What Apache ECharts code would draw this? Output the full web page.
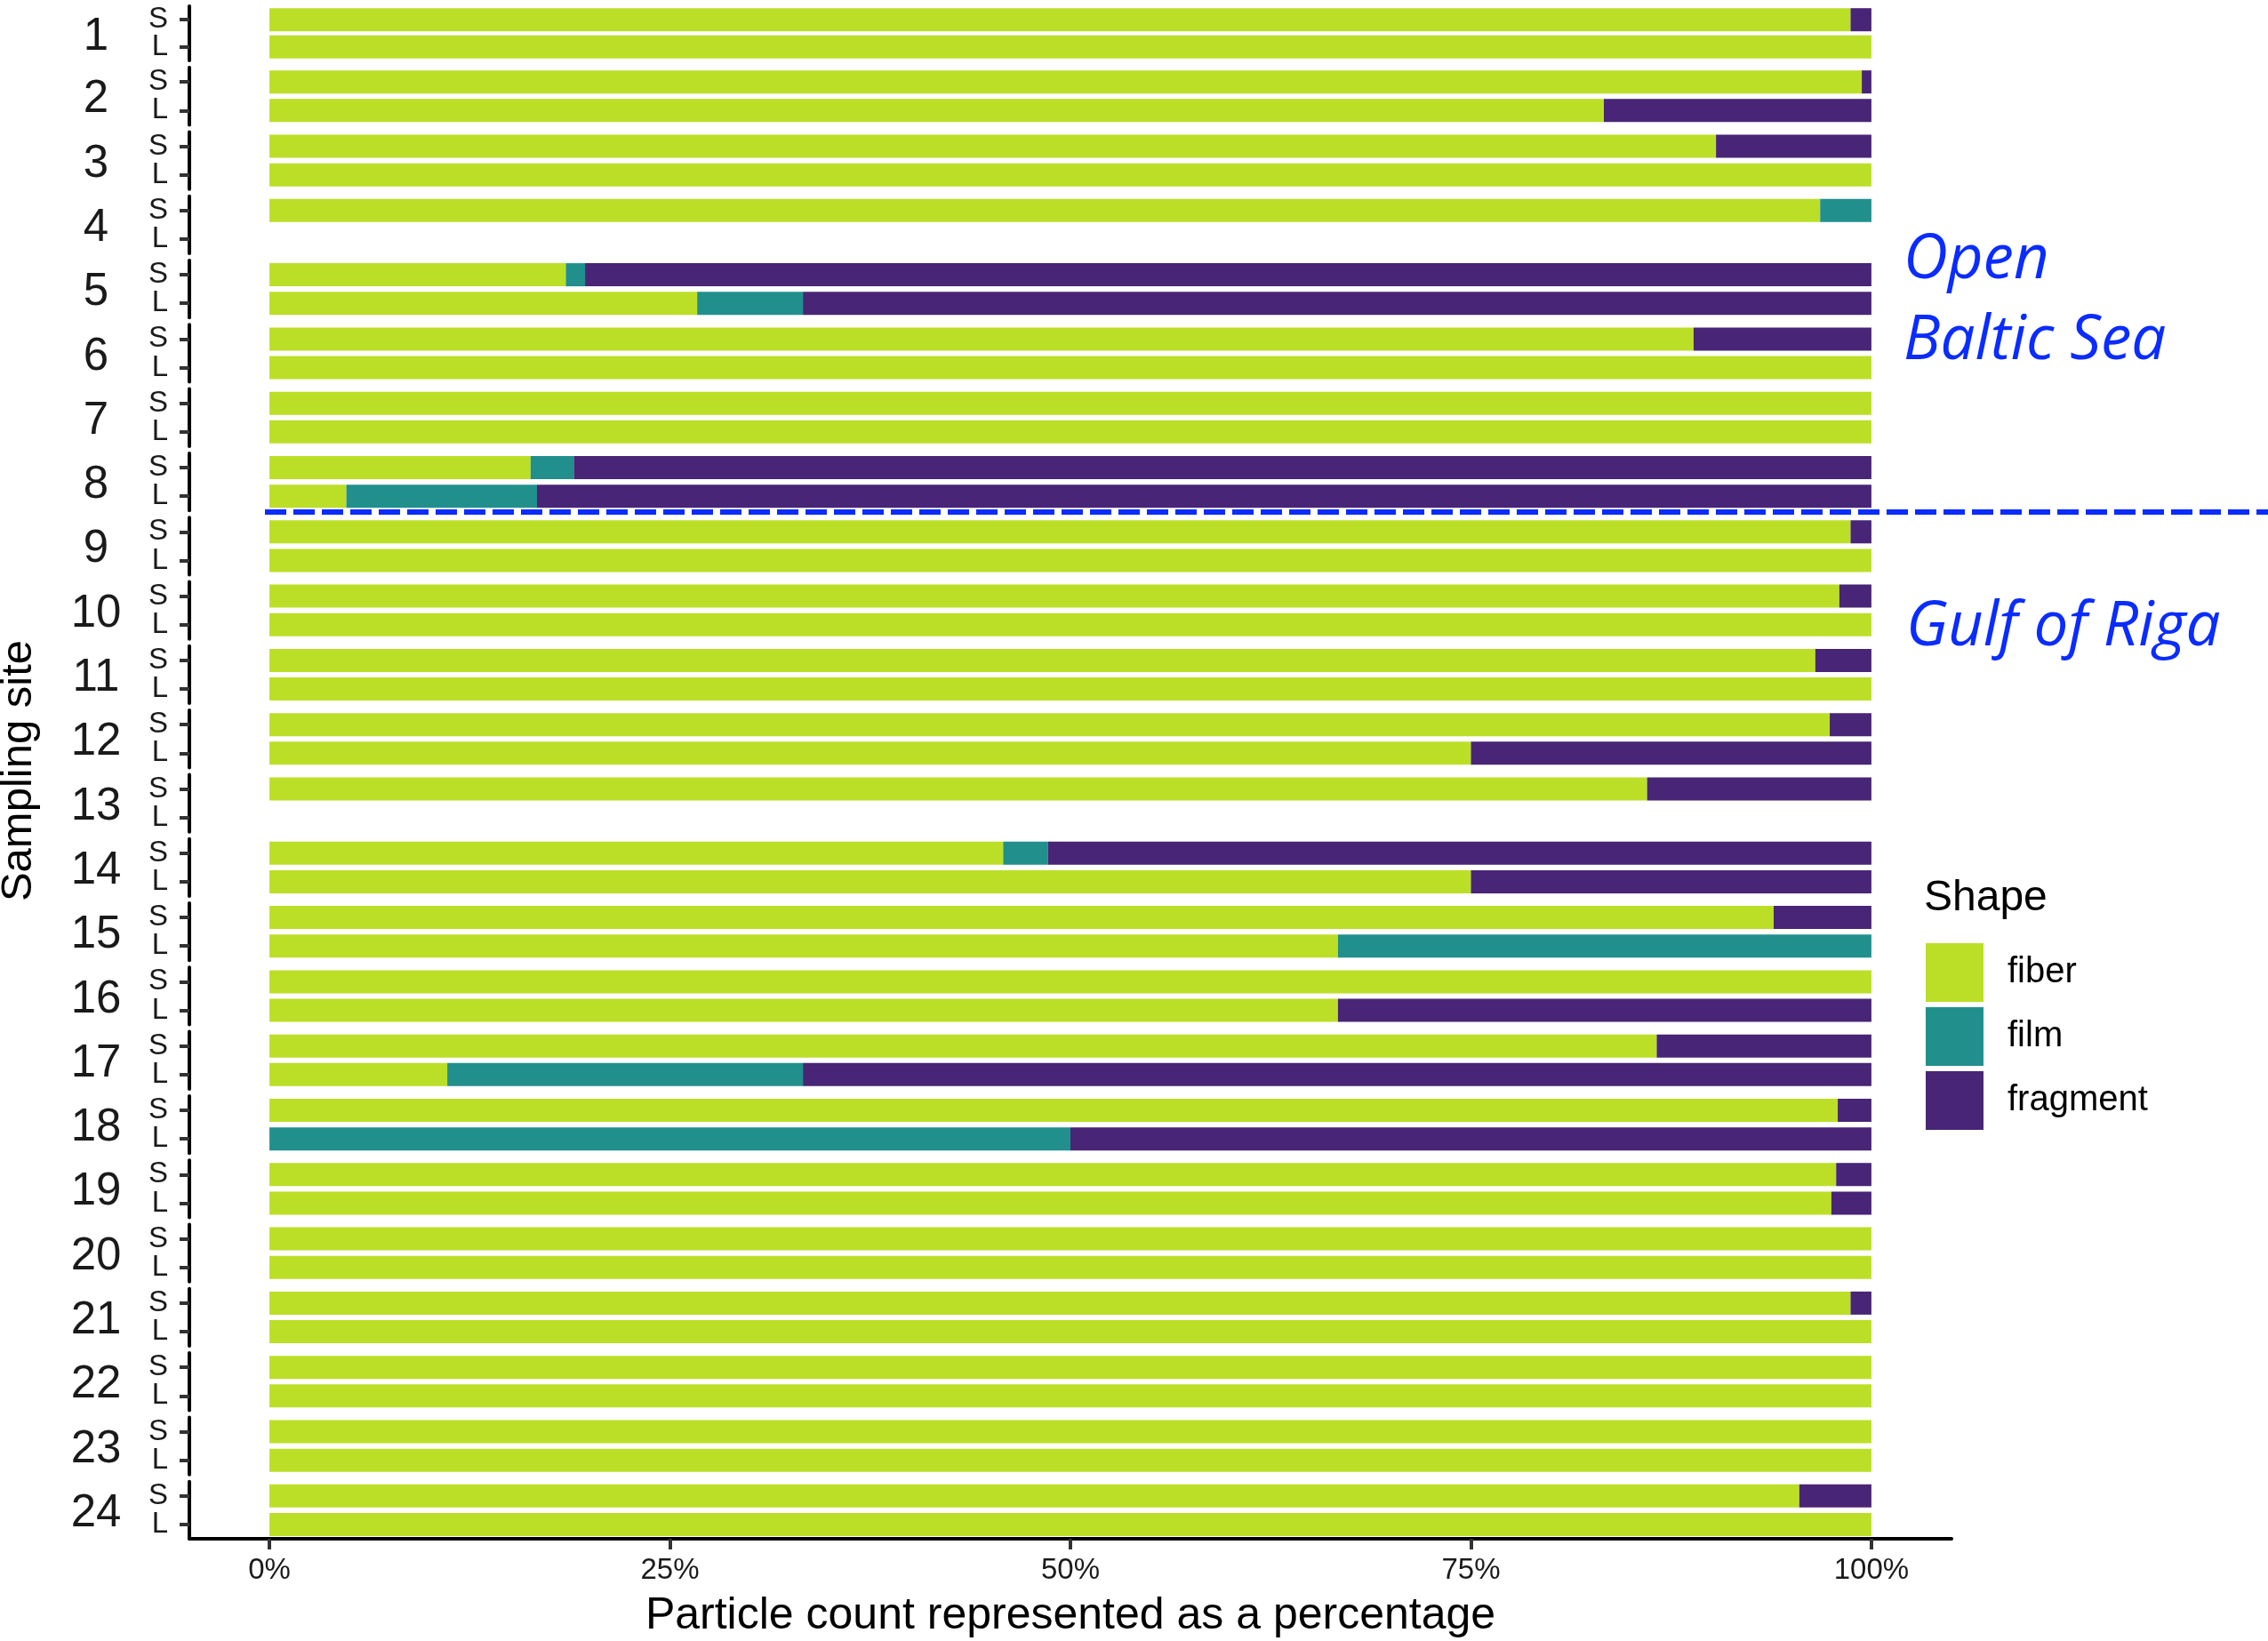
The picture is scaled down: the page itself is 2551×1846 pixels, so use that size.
<!DOCTYPE html>
<html>
<head>
<meta charset="utf-8">
<script src="https://cdn.jsdelivr.net/npm/echarts@6/dist/echarts.min.js"></script>
<style>
html, body { margin: 0; padding: 0; background: #fff; }
#main { width: 2551px; height: 1846px; }
</style>
</head>
<body>
<div id="main"></div>
<script>
var sites = ['1','2','3','4','5','6','7','8','9','10','11','12','13','14','15','16','17','18','19','20','21','22','23','24'];
var sizes = ['S', 'L'];
var shapes = ['fiber', 'film', 'fragment'];
var shapeColors = ['#BBDF27', '#21908C', '#482576'];
var xTicks = [0, 25, 50, 75, 100];

// percentages, S row of each site
var fiberS = [98.7, 99.4, 90.3, 96.8, 18.5, 88.9, 100, 16.3, 98.7, 98.0, 96.5, 97.4, 86.0, 45.8, 93.9, 100, 86.6, 97.9, 97.8, 100, 98.7, 100, 100, 95.5];
var filmS  = [0, 0, 0, 3.2, 1.2, 0, 0, 2.7, 0, 0, 0, 0, 0, 2.8, 0, 0, 0, 0, 0, 0, 0, 0, 0, 0];
var fragS  = [1.3, 0.6, 9.7, 0, 80.3, 11.1, 0, 81.0, 1.3, 2.0, 3.5, 2.6, 14.0, 51.4, 6.1, 0, 13.4, 2.1, 2.2, 0, 1.3, 0, 0, 4.5];

// percentages, L row of each site (null = no particles)
var fiberL = [100, 83.3, 100, null, 26.7, 100, 100, 4.8, 100, 100, 100, 75, null, 75, 66.7, 66.7, 11.1, 0, 97.5, 100, 100, 100, 100, 100];
var filmL  = [0, 0, 0, null, 6.6, 0, 0, 11.9, 0, 0, 0, 0, null, 0, 33.3, 0, 22.2, 50, 0, 0, 0, 0, 0, 0];
var fragL  = [0, 16.7, 0, null, 66.7, 0, 0, 83.3, 0, 0, 0, 25, null, 25, 0, 33.3, 66.7, 50, 2.5, 0, 0, 0, 0, 0];

var valuesS = [fiberS, filmS, fragS];
var valuesL = [fiberL, filmL, fragL];

var font = '"Liberation Sans", Arial, sans-serif';
var noteFont = '"Open Sans", sans-serif';
var blue = '#0a2cff';
var panelTop = 3.8, panelStep = 72.3, panelHeight = 64.3;
var last = sites.length - 1;

var grids = [], xAxes = [], yAxes = [], series = [];
sites.forEach(function (site, k) {
    grids.push({ left: 213, width: 1982, top: panelTop + k * panelStep, height: panelHeight });
    var isLast = k === last;
    xAxes.push({
        gridIndex: k,
        type: 'value',
        min: -5,
        max: 105,
        show: isLast,
        splitLine: { show: false },
        axisLine: { show: true, onZero: false, lineStyle: { color: '#000', width: 4 } },
        axisTick: { show: true, customValues: xTicks, length: 12, lineStyle: { color: '#333', width: 4 } },
        axisLabel: {
            customValues: xTicks,
            formatter: function (v) { return v + '%'; },
            fontSize: 33, color: '#1a1a1a', margin: 19, fontFamily: font
        },
        name: isLast ? 'Particle count represented as a percentage' : '',
        nameLocation: 'middle',
        nameGap: 87,
        nameTextStyle: { fontSize: 50, color: '#000', verticalAlign: 'middle', fontFamily: font }
    });
    yAxes.push({
        gridIndex: k,
        type: 'category',
        data: sizes,
        inverse: true,
        axisLine: { onZero: false, lineStyle: { color: '#000', width: 4 } },
        axisTick: { show: true, interval: 0, alignWithLabel: true, length: 11, lineStyle: { color: '#333', width: 4 } },
        axisLabel: { interval: 0, fontSize: 33, lineHeight: 33, color: '#1a1a1a', margin: 24, fontFamily: font },
        splitLine: { show: false },
        name: '{n|' + site + '}',
        nameLocation: 'middle',
        nameRotate: 0,
        nameGap: 105,
        nameTextStyle: {
            align: 'center', verticalAlign: 'middle',
            rich: { n: { fontSize: 51, lineHeight: 51, color: '#1a1a1a', fontFamily: font, padding: [8, 0, 0, 0] } }
        }
    });
    shapes.forEach(function (shape, j) {
        series.push({
            type: 'bar',
            name: shape,
            xAxisIndex: k,
            yAxisIndex: k,
            stack: 'site' + k,
            barWidth: 26,
            itemStyle: { color: shapeColors[j] },
            data: [valuesS[j][k], valuesL[j][k]]
        });
    });
});

var myChart = echarts.init(document.getElementById('main'));
var option = {
    animation: false,
    backgroundColor: '#fff',
    color: shapeColors,
    textStyle: { fontFamily: font },
    grid: grids,
    xAxis: xAxes,
    yAxis: yAxes,
    legend: {
        data: shapes,
        orient: 'vertical',
        left: 2166,
        top: 1061,
        padding: 0,
        itemWidth: 65,
        itemHeight: 66,
        itemGap: 6,
        icon: 'rect',
        selectedMode: false,
        textStyle: { fontSize: 40, color: '#000', padding: [0, 0, 0, 22], fontFamily: font }
    },
    graphic: [
        { type: 'text', x: 2164, y: 1011, style: { text: 'Shape', fontSize: 48, fontFamily: font, fill: '#000', verticalAlign: 'middle' } },
        { type: 'text', x: 21, y: 867, rotation: Math.PI / 2, style: { text: 'Sampling site', fontSize: 49, fontFamily: font, fill: '#000', align: 'center', verticalAlign: 'middle' } },
        { type: 'text', x: 2141, y: 293, style: { text: 'Open', fontSize: 69, fontStyle: 'italic', fontFamily: noteFont, fill: blue, verticalAlign: 'middle' } },
        { type: 'text', x: 2141, y: 384, style: { text: 'Baltic Sea', fontSize: 69, fontStyle: 'italic', fontFamily: noteFont, fill: blue, verticalAlign: 'middle' } },
        { type: 'text', x: 2144, y: 706, style: { text: 'Gulf of Riga', fontSize: 69, fontStyle: 'italic', fontFamily: noteFont, fill: blue, verticalAlign: 'middle' } },
        { type: 'line', z: 100, shape: { x1: 298, y1: 576, x2: 2551, y2: 576 }, style: { stroke: blue, lineWidth: 6, lineDash: [24, 8] } }
    ],
    series: series
};
myChart.setOption(option);
</script>
</body>
</html>
